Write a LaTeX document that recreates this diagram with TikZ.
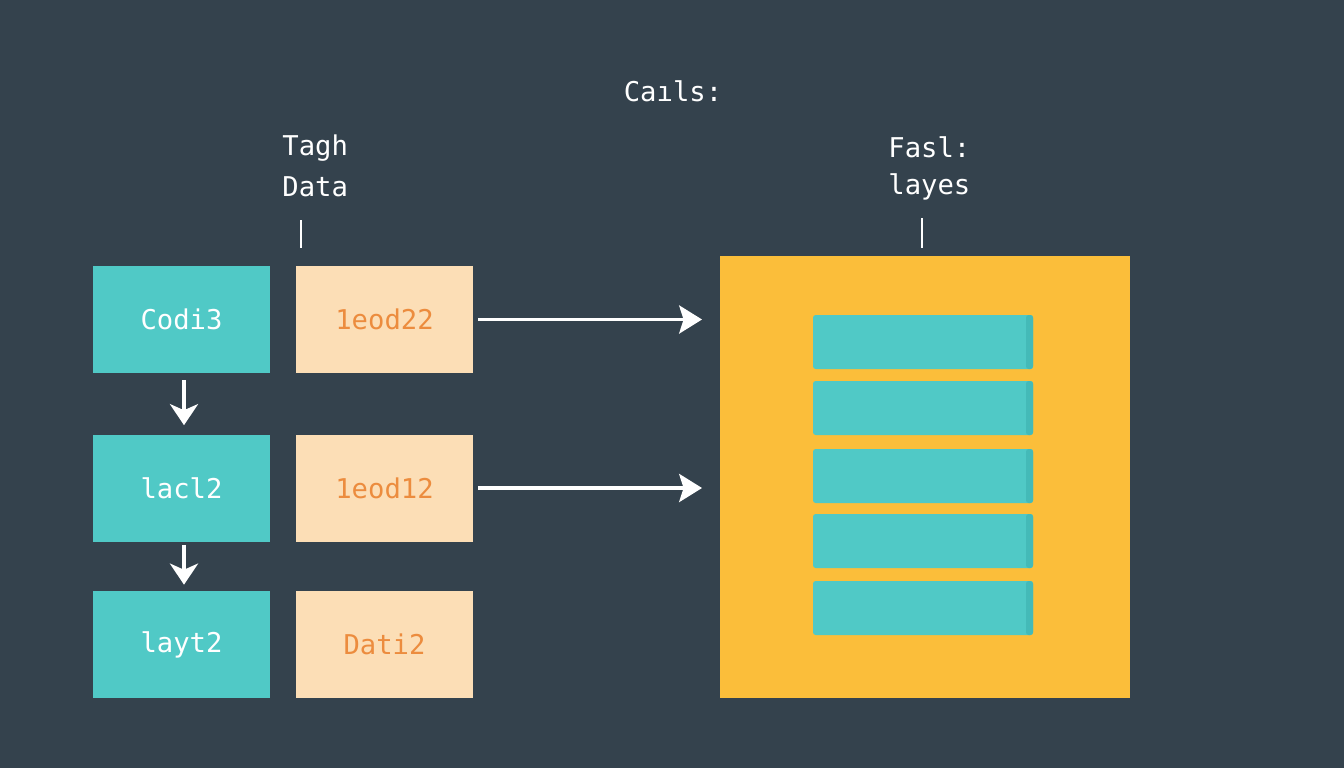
\documentclass[tikz,border=0pt]{standalone}
\usepackage{fontspec}
\setmonofont{DejaVu Sans Mono}
\usetikzlibrary{arrows.meta,positioning}
\definecolor{slate}{RGB}{52,66,77}
\definecolor{tealc}{RGB}{80,201,198}
\definecolor{tealdark}{RGB}{68,186,184}
\definecolor{peach}{RGB}{252,222,182}
\definecolor{orangetxt}{RGB}{236,140,62}
\definecolor{amber}{RGB}{251,190,58}
\tikzset{
  lbl/.style={text=white,font=\ttfamily\fontsize{15.5}{19}\selectfont,inner sep=0pt},
  tealbox/.style={fill=tealc,minimum width=3.54cm,minimum height=2.14cm,inner sep=0pt,
    text=white,font=\ttfamily\fontsize{15.5}{19}\selectfont},
  peachbox/.style={tealbox,fill=peach,text=orangetxt},
  flow/.style={white,line width=2.6pt,-{Stealth[length=12pt,width=16pt,inset=3.5pt]}},
  feed/.style={white,line width=1.9pt,-{Stealth[length=13pt,width=16pt,inset=2.5pt]}},
  tick/.style={white,line width=1.6pt}
}
\begin{document}
\begin{tikzpicture}[x=0.02cm,y=-0.02cm]
\fill[slate] (0,0) rectangle (1344,768);
\useasboundingbox (0,0) rectangle (1344,768);

% headings
\node[lbl] (title) at (673,91) {Caıls:};
\node[lbl,anchor=west] (tagh) at (282,148) {Tagh};
\node[lbl,anchor=west] (data) at (282,187) {Data};
\node[lbl,anchor=west] (fasl) at (888,147) {Fasl:};
\node[lbl,anchor=west] (layes) at (888,187) {layes};
\coordinate (tagtop) at (301,220);
\coordinate (tagbot) at (301,248);
\coordinate (fastop) at (922,218);
\coordinate (fasbot) at (922,248);
\draw[tick] (tagtop) -- (tagbot);
\draw[tick] (fastop) -- (fasbot);

% left column
\node[tealbox] (codi) at (181.5,319.5) {Codi3};
\node[tealbox] (lacl) at (181.5,488) {lacl2};
\node[tealbox] (layt) at (181.5,644.5) {layt2};
\node[peachbox] (leodA) at (384.5,319.5) {1eod22};
\node[peachbox] (leodB) at (384.5,488) {1eod12};
\node[peachbox] (dati) at (384.5,644.5) {Dati2};

\draw[flow,shorten <=0.14cm,shorten >=0.18cm] ([xshift=0.05cm]codi.south) -- ([xshift=0.05cm]lacl.north);
\draw[flow,shorten <=0.06cm,shorten >=0.12cm] ([xshift=0.05cm]lacl.south) -- ([xshift=0.05cm]layt.north);

% panel
\fill[amber] (720,256) rectangle (1130,698);
\coordinate (panelW) at (720,477);
\foreach \y in {315,381,449,514,581}{
  \fill[tealc,rounded corners=1.5pt] (813,\y) rectangle (1033,\y+54);
  \fill[tealdark,rounded corners=1.5pt] (1026,\y) rectangle (1033,\y+54);
}

\draw[feed,shorten <=0.1cm,shorten >=0.36cm] (leodA.east) -- (leodA.east -| panelW);
\draw[feed,shorten <=0.1cm,shorten >=0.36cm] (leodB.east) -- (leodB.east -| panelW);
\end{tikzpicture}
\end{document}
